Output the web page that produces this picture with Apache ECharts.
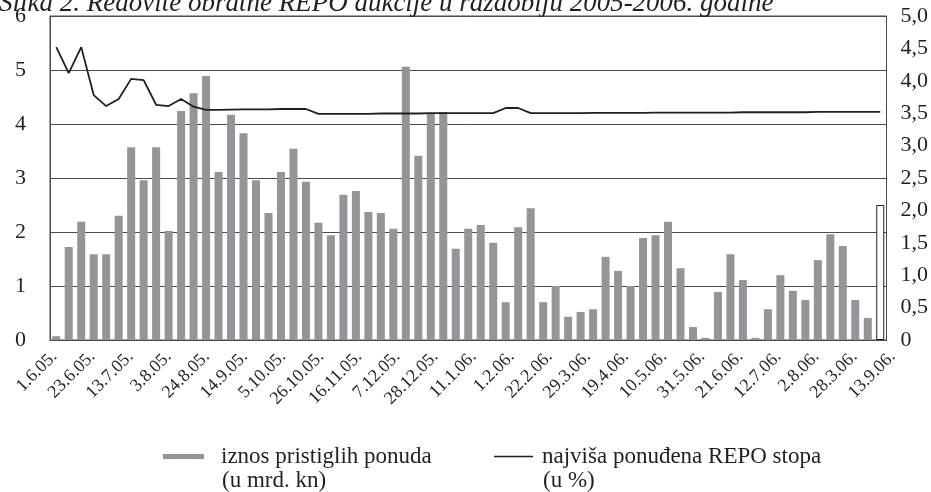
<!DOCTYPE html>
<html>
<head>
<meta charset="utf-8">
<script src="https://cdn.jsdelivr.net/npm/echarts@6/dist/echarts.min.js"></script>
<style>
  html, body { margin: 0; padding: 0; background: #fff; }
  #main { width: 931px; height: 492px; }
</style>
</head>
<body>
<div id="main"></div>
<script>
// labels shown under every third auction
const tickLabels = ['1.6.05.', '23.6.05.', '13.7.05.', '3.8.05.', '24.8.05.', '14.9.05.',
  '5.10.05.', '26.10.05.', '16.11.05.', '7.12.05.', '28.12.05.', '11.1.06.', '1.2.06.',
  '22.2.06.', '29.3.06.', '19.4.06.', '10.5.06.', '31.5.06.', '21.6.06.', '12.7.06.',
  '2.8.06.', '28.3.06.', '13.9.06.']

// iznos pristiglih ponuda (u mrd. kn)
const offers = [0.07, 1.72, 2.19, 1.59, 1.59, 2.30, 3.57, 2.96, 3.57, 2.02,
  4.24, 4.57, 4.89, 3.11, 4.17, 3.83, 2.96, 2.35, 3.11, 3.54,
  2.93, 2.17, 1.94, 2.69, 2.76, 2.37, 2.35, 2.06, 5.06, 3.41,
  4.20, 4.22, 1.69, 2.06, 2.13, 1.80, 0.70, 2.09, 2.44, 0.70,
  1.00, 0.43, 0.52, 0.57, 1.54, 1.28, 1.00, 1.89, 1.94, 2.19,
  1.33, 0.24, 0.04, 0.89, 1.59, 1.11, 0.04, 0.57, 1.20, 0.91,
  0.74, 1.48, 1.96, 1.74, 0.74, 0.41, 2.50]

// najviša ponuđena REPO stopa (u %)
const repoRate = [4.52, 4.12, 4.52, 3.78, 3.61, 3.72, 4.03, 4.01, 3.63, 3.61,
  3.72, 3.60, 3.55, 3.55, 3.555, 3.56, 3.56, 3.56, 3.565, 3.565,
  3.565, 3.49, 3.49, 3.49, 3.49, 3.49, 3.495, 3.495, 3.495, 3.495,
  3.50, 3.50, 3.50, 3.50, 3.50, 3.50, 3.58, 3.58, 3.50, 3.50,
  3.50, 3.50, 3.50, 3.505, 3.505, 3.505, 3.505, 3.505, 3.51, 3.51,
  3.51, 3.51, 3.51, 3.51, 3.51, 3.515, 3.515, 3.515, 3.515, 3.515,
  3.515, 3.52, 3.52, 3.52, 3.52, 3.52, 3.52]

const leftTicks = [0, 6, 1]
const rightTicks = [0, 5, 0.5]

const categories = offers.map((v, i) => (i % 3 === 0 ? tickLabels[i / 3] : ''))

const serif = '"Liberation Serif", "Times New Roman", serif'
const ink = '#231f20'
const gridGray = '#4a4a4a'
const barName = 'iznos pristiglih ponuda'
const lineName = 'najviša ponuđena REPO stopa'

const myChart = echarts.init(document.getElementById('main'))

const option = {
  animation: false,
  title: {
    text: 'Slika 2. Redovite obratne REPO aukcije u razdoblju 2005-2006. godine',
    left: -1,
    top: -10,
    padding: 0,
    textStyle: { fontFamily: serif, fontStyle: 'italic', fontWeight: 'normal', fontSize: 27, color: ink }
  },
  grid: [
    { left: 50, right: 41, top: 16, bottom: 152, show: true, borderColor: gridGray, borderWidth: 1 },
    // only carries the date labels, which sit a little wider than the bars
    { left: 48, right: 32, top: 16, bottom: 152, show: false }
  ],
  legend: [{
    data: [barName],
    left: 158, top: 440,
    itemWidth: 41, itemHeight: 5,
    icon: 'rect',
    textStyle: { fontFamily: serif, fontSize: 23, color: ink, padding: [0, 0, 0, 12] }
  }, {
    data: [lineName],
    left: 489, top: 440,
    itemWidth: 39, itemHeight: 1.5,
    icon: 'rect',
    itemStyle: { color: ink },
    textStyle: { fontFamily: serif, fontSize: 23, color: ink, padding: [0, 0, 0, 4] }
  }],
  graphic: [
    { type: 'text', left: 222, top: 469, style: { text: '(u mrd. kn)', font: '23px ' + serif, fill: ink } },
    { type: 'text', left: 543, top: 469, style: { text: '(u %)', font: '23px ' + serif, fill: ink } }
  ],
  xAxis: [{
    type: 'category',
    gridIndex: 0,
    data: categories,
    axisTick: { show: false },
    axisLine: { lineStyle: { color: gridGray, width: 1 } },
    axisLabel: { show: false }
  }, {
    type: 'category',
    gridIndex: 1,
    data: categories,
    axisTick: { show: false },
    axisLine: { show: false },
    axisLabel: {
      interval: 0, rotate: 45, margin: 14,
      fontFamily: serif, fontSize: 18, color: ink
    }
  }],
  yAxis: [{
    type: 'value',
    gridIndex: 0,
    min: leftTicks[0], max: leftTicks[1], interval: leftTicks[2],
    axisLine: { show: true, lineStyle: { color: gridGray } },
    axisTick: { show: false },
    splitLine: { lineStyle: { color: gridGray, width: 1 } },
    axisLabel: { margin: 24, fontFamily: serif, fontSize: 22, color: ink }
  }, {
    type: 'value',
    gridIndex: 0,
    min: rightTicks[0], max: rightTicks[1], interval: rightTicks[2],
    axisLine: { show: false },
    axisTick: { show: false },
    splitLine: { show: false },
    axisLabel: {
      margin: 14, fontFamily: serif, fontSize: 22, color: ink,
      formatter: v => (v === 0 ? '0' : v.toFixed(1).replace('.', ','))
    }
  }, {
    type: 'value',
    gridIndex: 1,
    min: 0, max: 1,
    show: false
  }],
  series: [{
    name: barName,
    type: 'bar',
    xAxisIndex: 0,
    yAxisIndex: 0,
    barWidth: 8,
    itemStyle: { color: '#939598' },
    data: offers.map((v, i) => i === offers.length - 1
      ? { value: v, itemStyle: { color: '#fff', borderColor: ink, borderWidth: 1 } }
      : v)
  }, {
    name: lineName,
    type: 'line',
    xAxisIndex: 0,
    yAxisIndex: 1,
    symbol: 'none',
    lineStyle: { color: ink, width: 1.8 },
    itemStyle: { color: ink },
    data: repoRate
  }]
}

myChart.setOption(option)
</script>
</body>
</html>
